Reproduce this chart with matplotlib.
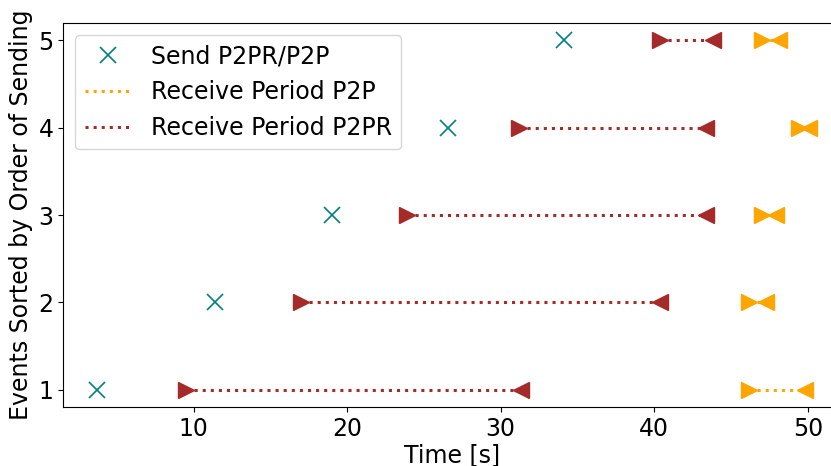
import matplotlib
matplotlib.use("Agg")
import matplotlib.pyplot as plt

events = [1, 2, 3, 4, 5]
send_times = [3.7, 11.4, 19.0, 26.6, 34.1]
p2pr_start = [9.5, 17.0, 23.9, 31.2, 40.4]
p2pr_end = [31.3, 40.4, 43.4, 43.4, 43.8]
p2p_start = [46.2, 46.2, 47.0, 49.4, 47.0]
p2p_end = [49.8, 47.3, 47.9, 50.1, 48.1]

fig = plt.figure(figsize=(8.31, 4.66), dpi=100)
ax = fig.add_axes([0.0762, 0.1266, 0.9347, 0.824])
fs = 17
ms = 12
lw = 2.2

ax.plot(send_times, events, 'x', color='teal', markersize=ms, markeredgewidth=1.2,
        linestyle='none', label='Send P2PR/P2P')

for i, e in enumerate(events):
    ax.plot([p2p_start[i], p2p_end[i]], [e, e], ':', color='orange', linewidth=lw,
            label='Receive Period P2P' if i == 0 else None)
    ax.plot(p2p_start[i], e, '>', color='orange', markersize=ms)
    ax.plot(p2p_end[i], e, '<', color='orange', markersize=ms)

for i, e in enumerate(events):
    ax.plot([p2pr_start[i], p2pr_end[i]], [e, e], ':', color='brown', linewidth=lw,
            label='Receive Period P2PR' if i == 0 else None)
    ax.plot(p2pr_start[i], e, '>', color='brown', markersize=ms)
    ax.plot(p2pr_end[i], e, '<', color='brown', markersize=ms)

ax.set_xlim(1.52, 52.1)
ax.set_ylim(0.8, 5.2)
ax.set_xticks([10, 20, 30, 40, 50])
ax.set_yticks(events)
ax.tick_params(labelsize=fs)
ax.set_xlabel('Time [s]', fontsize=fs, labelpad=2)
ax.set_ylabel('Events Sorted by Order of Sending', fontsize=fs, labelpad=4)
ax.legend(loc='upper left', fontsize=fs, borderaxespad=0.5, handlelength=2.0)

fig.savefig('out.png', dpi=100)
